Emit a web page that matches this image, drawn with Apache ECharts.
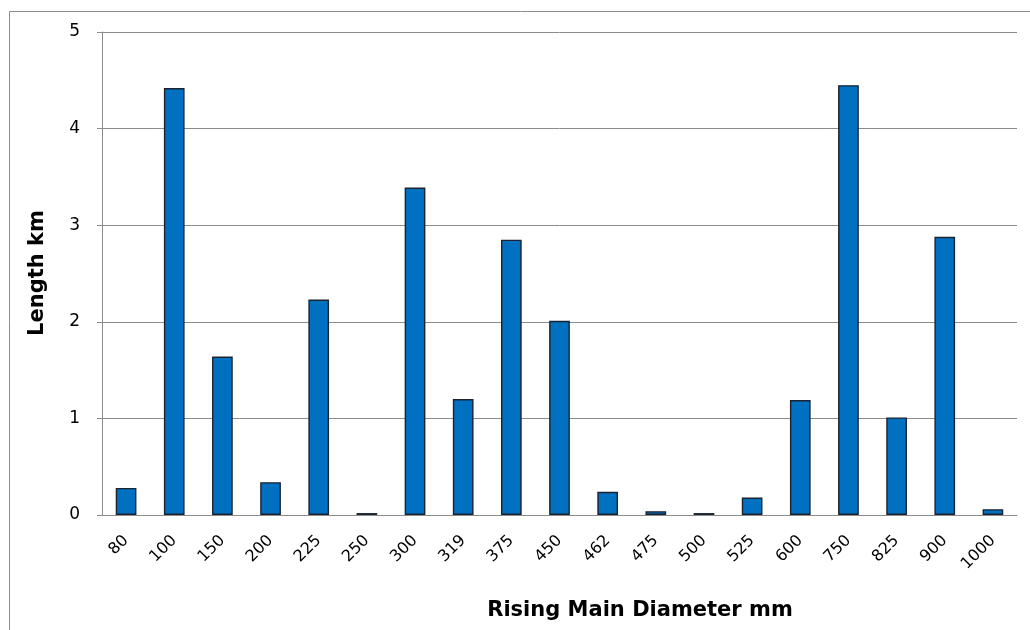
<!DOCTYPE html>
<html>
<head>
<meta charset="utf-8">
<script src="https://cdn.jsdelivr.net/npm/echarts@6/dist/echarts.min.js"></script>
<style>
  html, body { margin: 0; padding: 0; background: #fff; }
  #chart { width: 1030px; height: 630px; }
</style>
</head>
<body>
<div id="chart"></div>
<script>
// Rising main lengths by pipe diameter
const diameters = ['80', '100', '150', '200', '225', '250', '300', '319', '375', '450',
                   '462', '475', '500', '525', '600', '750', '825', '900', '1000'];
const lengthKm = [0.28, 4.42, 1.64, 0.34, 2.23, 0.02, 3.39, 1.20, 2.85, 2.01,
                  0.24, 0.04, 0.02, 0.18, 1.19, 4.45, 1.01, 2.88, 0.06];
const yTicks = [0, 1, 2, 3, 4, 5];

const FONT = '"DejaVu Sans", Verdana, sans-serif';
const chart = echarts.init(document.getElementById('chart'));

chart.setOption({
  animation: false,
  backgroundColor: '#ffffff',
  grid: { left: 102, right: 13, top: 32, bottom: 115, containLabel: false },
  xAxis: {
    type: 'category',
    data: diameters,
    axisLine: { show: true, lineStyle: { color: '#8c8c8c', width: 1 } },
    axisTick: { show: false },
    axisLabel: {
      rotate: 45, color: '#000', fontFamily: FONT, fontSize: 16,
      margin: 23, interval: 0
    },
    splitLine: { show: false }
  },
  yAxis: {
    type: 'value',
    min: yTicks[0],
    max: yTicks[yTicks.length - 1],
    interval: 1,
    axisLine: { show: true, lineStyle: { color: '#8c8c8c', width: 1 } },
    axisTick: { show: true, length: 5, inside: false, lineStyle: { color: '#8c8c8c' } },
    axisLabel: { color: '#000', fontFamily: FONT, fontSize: 17, margin: 22 },
    splitLine: { show: true, lineStyle: { color: '#8c8c8c', width: 1 } }
  },
  series: [{
    type: 'bar',
    data: lengthKm,
    barWidth: '43%',
    itemStyle: { color: '#0070c0', borderColor: '#1a2330', borderWidth: 1.4 }
  }],
  graphic: [
    {
      type: 'rect',
      shape: { x: 9.5, y: 11.5, width: 1100, height: 700 },
      style: { fill: 'none', stroke: '#8c8c8c', lineWidth: 1 },
      silent: true, z: -1
    },
    {
      type: 'text',
      x: 640, y: 611,
      style: {
        text: 'Rising Main Diameter mm', font: 'bold 21px ' + FONT,
        fill: '#000', textAlign: 'center', textVerticalAlign: 'middle'
      }
    },
    {
      type: 'text',
      x: 38, y: 273,
      rotation: Math.PI / 2,
      style: {
        text: 'Length km', font: 'bold 21px ' + FONT,
        fill: '#000', textAlign: 'center', textVerticalAlign: 'middle'
      }
    }
  ]
});
</script>
</body>
</html>
